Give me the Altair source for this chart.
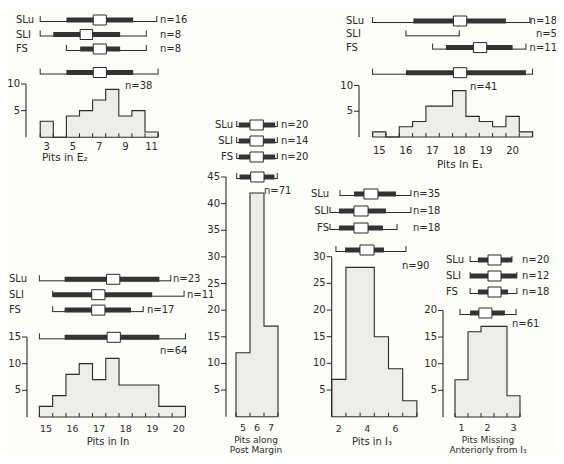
import altair as alt
import pandas as pd
import numpy as np

OFF = 8
FONT = "DejaVu Sans"
INK = "#2a2a2a"
FILL = "#ecece8"
BG = "#fcfcf8"
GROUPS = ["SLu", "SLI", "FS", "All"]

# ---------------- data ----------------
# Pits in E2
E2_centers = [3, 4, 5, 6, 7, 8, 9, 10, 11]
E2_counts = [3, 0, 4, 5, 7, 9, 4, 5, 1]
E2_n = [16, 8, 8, 38]
E2_min = [2.5, 2.5, 4.5, 2.5]
E2_max = [11.4, 10.6, 10.6, 11.5]
E2_sdlo = [4.5, 3.5, 5.55, 4.5]
E2_sdhi = [9.6, 8.6, 8.6, 9.6]
E2_selo = [6.55, 5.55, 6.55, 6.55]
E2_sehi = [7.55, 6.5, 7.55, 7.55]

# Pits in E1
E1_centers = [15, 15.5, 16, 16.5, 17, 17.5, 18, 18.5, 19, 19.5, 20, 20.5]
E1_counts = [1, 0, 2, 3, 6, 6, 9, 4, 3, 2, 4, 1]
E1_n = [18, 5, 11, 41]
E1_min = [14.75, 16.0, 17.0, 14.75]
E1_max = [20.65, 18.0, 20.5, 20.75]
E1_sdlo = [16.28, None, 17.5, 16.0]
E1_sdhi = [19.75, None, 20.0, 20.5]
E1_selo = [17.78, None, 18.53, 17.78]
E1_sehi = [18.28, None, 19.03, 18.28]

# Pits in In
IN_centers = [15, 15.5, 16, 16.5, 17, 17.5, 18, 18.5, 19, 19.5, 20]
IN_counts = [2, 4, 8, 10, 7, 11, 6, 6, 6, 2, 2]
IN_n = [23, 11, 17, 64]
IN_min = [14.75, 15.25, 15.25, 14.75]
IN_max = [19.7, 20.2, 18.66, 20.25]
IN_sdlo = [15.7, 15.25, 15.7, 15.7]
IN_sdhi = [19.27, 19.0, 18.2, 19.27]
IN_selo = [17.28, 16.72, 16.72, 17.3]
IN_sehi = [17.78, 17.22, 17.22, 17.8]

# Pits along Post Margin
PM_centers = [5, 6, 7]
PM_counts = [12, 42, 17]
PM_n = [20, 14, 20, 71]
PM_min = [4.55, 4.55, 4.55, 4.55]
PM_max = [7.45, 7.45, 7.45, 7.45]
PM_sdlo = [4.7, 4.7, 4.7, 4.75]
PM_sdhi = [7.3, 7.3, 7.3, 7.25]
PM_selo = [5.5, 5.5, 5.5, 5.55]
PM_sehi = [6.45, 6.45, 6.45, 6.5]

# Pits in I3
I3_centers = [2, 3, 4, 5, 6, 7]
I3_counts = [7, 28, 28, 15, 9, 3]
I3_n = [35, 18, 18, 90]
I3_min = [2.08, 1.38, 1.38, 1.8]
I3_max = [7.08, 7.08, 6.1, 6.73]
I3_sdlo = [3.07, 2.01, 2.01, 2.44]
I3_sdhi = [6.03, 5.32, 5.11, 5.18]
I3_selo = [3.77, 3.07, 3.07, 3.49]
I3_sehi = [4.76, 4.06, 4.06, 4.48]

# Pits missing anteriorly from I3
MA_centers = [1, 1.5, 2, 2.5, 3]
MA_counts = [7, 16, 17, 17, 4]
MA_n = [20, 12, 18, 61]
MA_min = [1.33, 1.33, 1.33, 0.94]
MA_max = [2.94, 3.13, 3.13, 3.1]
MA_sdlo = [1.63, 1.33, 1.63, 1.33]
MA_sdhi = [2.94, 3.13, 2.79, 2.67]
MA_selo = [2.02, 2.02, 2.02, 1.67]
MA_sehi = [2.52, 2.52, 2.52, 2.17]

# ---------------- layout (page pixels) ----------------
PANELS = [
    dict(centers=E2_centers, counts=E2_counts, width=1.0, n=E2_n, mn=E2_min, mx=E2_max,
         sdlo=E2_sdlo, sdhi=E2_sdhi, selo=E2_selo, sehi=E2_sehi,
         xdom=(2.5, 11.5), xpx=(40.2, 158.1), ymax=10, ypx=(137.3, 84.0),
         yticks=[5, 10], xticks=list(np.arange(2.5, 11.51, 1.0)), xlabels=[3, 5, 7, 9, 11],
         axis_x=26, xlab_y=147, xlab_size=10, row0=20, step=14.5, all_y=72.5,
         gl_x=16, gl_align="left", n_x=160, n_align="left", all_n=(125, 86, "left"),
         titles=[("Pits in E\u2082", 42, 158, "left", 10.5)]),
    dict(centers=E1_centers, counts=E1_counts, width=0.5, n=E1_n, mn=E1_min, mx=E1_max,
         sdlo=E1_sdlo, sdhi=E1_sdhi, selo=E1_selo, sehi=E1_sehi,
         xdom=(14.75, 20.75), xpx=(372.6, 532.6), ymax=10, ypx=(137.0, 85.5),
         yticks=[5, 10], xticks=list(np.arange(14.75, 20.76, 0.5)), xlabels=[15, 16, 17, 18, 19, 20],
         axis_x=359, xlab_y=151, xlab_size=10, row0=21, step=13.3, all_y=72.7,
         gl_x=346, gl_align="left", n_x=557, n_align="right", all_n=(470, 87, "left"),
         titles=[("Pits In E\u2081", 437, 165, "left", 10.5)]),
    dict(centers=IN_centers, counts=IN_counts, width=0.5, n=IN_n, mn=IN_min, mx=IN_max,
         sdlo=IN_sdlo, sdhi=IN_sdhi, selo=IN_selo, sehi=IN_sehi,
         xdom=(14.75, 20.25), xpx=(39.4, 185.4), ymax=15, ypx=(417.0, 337.0),
         yticks=[5, 10, 15], xticks=list(np.arange(14.75, 20.26, 0.5)), xlabels=[15, 16, 17, 18, 19, 20],
         axis_x=27, xlab_y=429, xlab_size=9.5, row0=279.3, step=15.4, all_y=337.3,
         gl_x=9, gl_align="left", n_x=None, n_align="left", all_n=(160, 351, "left"),
         n_xs=[173, 187, 147],
         titles=[("Pits in In", 108, 442, "center", 10)]),
    dict(centers=PM_centers, counts=PM_counts, width=1.0, n=PM_n, mn=PM_min, mx=PM_max,
         sdlo=PM_sdlo, sdhi=PM_sdhi, selo=PM_selo, sehi=PM_sehi,
         xdom=(4.5, 7.5), xpx=(236.0, 278.0), ymax=45, ypx=(416.7, 177.0),
         yticks=[5, 10, 15, 20, 25, 30, 35, 40, 45], xticks=[4.5, 5.5, 6.5, 7.5], xlabels=[5, 6, 7],
         axis_x=226, xlab_y=428, xlab_size=9.5, row0=125, step=16, all_y=177,
         gl_x=233, gl_align="right", n_x=281, n_align="left", all_n=(264, 191, "left"),
         titles=[("Pits along", 256, 439.6, "center", 9), ("Post Margin", 256, 450.4, "center", 9)]),
    dict(centers=I3_centers, counts=I3_counts, width=1.0, n=I3_n, mn=I3_min, mx=I3_max,
         sdlo=I3_sdlo, sdhi=I3_sdhi, selo=I3_selo, sehi=I3_sehi,
         xdom=(1.5, 7.5), xpx=(331.7, 416.9), ymax=30, ypx=(416.7, 256.7),
         yticks=[5, 10, 15, 20, 25, 30], xticks=list(np.arange(1.5, 7.51, 1.0)), xlabels=[2, 4, 6],
         axis_x=331.7, xlab_y=429, xlab_size=9.5, row0=194, step=17, all_y=250,
         gl_x=329, gl_align="right", n_x=413, n_align="left", all_n=(402, 266, "left"),
         titles=[("Pits in I\u2083", 372, 442, "center", 10)]),
    dict(centers=MA_centers, counts=MA_counts, width=0.5, n=MA_n, mn=MA_min, mx=MA_max,
         sdlo=MA_sdlo, sdhi=MA_sdhi, selo=MA_selo, sehi=MA_sehi,
         xdom=(0.75, 3.25), xpx=(455.0, 520.0), ymax=20, ypx=(417.0, 310.4),
         yticks=[5, 10, 15, 20], xticks=list(np.arange(0.75, 3.26, 0.5)), xlabels=[1, 2, 3],
         axis_x=443, xlab_y=428, xlab_size=9.5, row0=260, step=16, all_y=313,
         gl_x=446, gl_align="left", n_x=522, n_align="left", all_n=(512, 324, "left"),
         titles=[("Pits Missing", 488, 439.6, "center", 9),
                 ("Anteriorly from I\u2083", 488, 450.4, "center", 9)]),
]


def lin(dom, rng):
    return alt.Scale(domain=list(dom), range=[r - OFF for r in rng], nice=False, zero=False)


def txt(size=10, align="center", baseline="middle"):
    return dict(font=FONT, fontSize=size, color=INK, align=align, baseline=baseline)


def build(P):
    xs = lin(P["xdom"], P["xpx"])
    ys = lin((0, P["ymax"]), P["ypx"])
    rs = lin((0, 1), (P["row0"], P["row0"] + P["step"]))
    X = lambda f: alt.X(f, scale=xs, axis=None)
    Y = lambda f: alt.Y(f, scale=ys, axis=None)
    R = lambda f: alt.Y(f, scale=rs, axis=None)
    L = []
    w = P["width"]
    left = [c - w / 2 for c in P["centers"]]
    right = P["centers"][-1] + w / 2
    cnt = list(P["counts"])

    area_df = pd.DataFrame({"x": left + [right], "y": cnt + [cnt[-1]]})
    L.append(alt.Chart(area_df).mark_area(interpolate="step-after", color=FILL)
             .encode(x=X("x:Q"), y=Y("y:Q")))
    line_df = pd.DataFrame({"x": [left[0]] + left + [right], "y": [0] + cnt + [0]})
    line_df["i"] = range(len(line_df))
    L.append(alt.Chart(line_df).mark_line(interpolate="step-after", color=INK, strokeWidth=1.1)
             .encode(x=X("x:Q"), y=Y("y:Q"), order=alt.Order("i:Q")))

    base_df = pd.DataFrame({"lo": [left[0]], "hi": [right], "z": [0]})
    L.append(alt.Chart(base_df).mark_rule(color=INK, strokeWidth=1.1)
             .encode(x=X("lo:Q"), x2="hi:Q", y=Y("z:Q")))
    tick_df = pd.DataFrame({"t": P["xticks"], "z": 0})
    L.append(alt.Chart(tick_df).mark_rule(color=INK, strokeWidth=1, y2Offset=-4)
             .encode(x=X("t:Q"), y=Y("z:Q"), y2="z:Q"))

    ax_df = pd.DataFrame({"a": [0], "b": [P["ymax"]]})
    L.append(alt.Chart(ax_df).mark_rule(color=INK, strokeWidth=1.1)
             .encode(x=alt.value(P["axis_x"] - OFF), y=Y("a:Q"), y2="b:Q"))
    yt_df = pd.DataFrame({"t": P["yticks"]})
    L.append(alt.Chart(yt_df).mark_rule(color=INK, strokeWidth=1)
             .encode(x=alt.value(P["axis_x"] - 5 - OFF), x2=alt.value(P["axis_x"] - OFF), y=Y("t:Q")))
    L.append(alt.Chart(yt_df).mark_text(**txt(10, "right"))
             .encode(x=alt.value(P["axis_x"] - 6 - OFF), y=Y("t:Q"), text="t:Q"))
    xl_df = pd.DataFrame({"v": P["xlabels"]})
    L.append(alt.Chart(xl_df).mark_text(**txt(P["xlab_size"]))
             .encode(x=X("v:Q"), y=alt.value(P["xlab_y"] - OFF), text="v:Q"))
    for s, tx, ty, al, fs in P["titles"]:
        L.append(alt.Chart(pd.DataFrame({"s": [s]})).mark_text(**txt(fs, al))
                 .encode(x=alt.value(tx - OFF), y=alt.value(ty - OFF), text="s:N"))

    all_lvl = 2 + (P["all_y"] - (P["row0"] + 2 * P["step"])) / P["step"]
    d = pd.DataFrame({"g": GROUPS, "lvl": [0, 1, 2, all_lvl], "n": P["n"],
                      "mn": P["mn"], "mx": P["mx"],
                      "tlo": P["sdlo"], "thi": P["sdhi"], "blo": P["selo"], "bhi": P["sehi"]})
    d["nl"] = ["n=" + str(v) for v in d["n"]]
    dd = d.dropna(subset=["tlo"])
    L.append(alt.Chart(d).mark_rule(color=INK, strokeWidth=1, yOffset=1.5, y2Offset=1.5)
             .encode(x=X("mn:Q"), x2="mx:Q", y=R("lvl:Q"), y2="lvl:Q"))
    for f in ["mn", "mx"]:
        L.append(alt.Chart(d).mark_rule(color=INK, strokeWidth=1, yOffset=2, y2Offset=-4)
                 .encode(x=X(f + ":Q"), y=R("lvl:Q"), y2="lvl:Q"))
    L.append(alt.Chart(dd).mark_rect(color="#333333", yOffset=-2.5, y2Offset=2.5)
             .encode(x=X("tlo:Q"), x2="thi:Q", y=R("lvl:Q"), y2="lvl:Q"))
    L.append(alt.Chart(dd).mark_rect(fill="white", stroke=INK, strokeWidth=1, yOffset=-5, y2Offset=5)
             .encode(x=X("blo:Q"), x2="bhi:Q", y=R("lvl:Q"), y2="lvl:Q"))
    gl = d[d["g"] != "All"]
    L.append(alt.Chart(gl).mark_text(**txt(10, P["gl_align"]))
             .encode(x=alt.value(P["gl_x"] - OFF), y=R("lvl:Q"), text="g:N"))
    if P.get("n_xs"):
        for k in range(3):
            L.append(alt.Chart(gl.iloc[[k]]).mark_text(**txt(10, "left"))
                     .encode(x=alt.value(P["n_xs"][k] - OFF), y=R("lvl:Q"), text="nl:N"))
    else:
        L.append(alt.Chart(gl).mark_text(**txt(10, P["n_align"]))
                 .encode(x=alt.value(P["n_x"] - OFF), y=R("lvl:Q"), text="nl:N"))
    ax, ay, aal = P["all_n"]
    L.append(alt.Chart(d[d["g"] == "All"]).mark_text(**txt(10, aal))
             .encode(x=alt.value(ax - OFF), y=alt.value(ay - OFF), text="nl:N"))
    return L


layers = []
for P in PANELS:
    layers += build(P)

chart = (alt.layer(*layers)
         .resolve_scale(x="independent", y="independent")
         .properties(width=548, height=448, autosize=alt.AutoSizeParams(type="none"), padding=0,
                     background=BG)
         .configure_view(stroke=None))

chart.save("out.html", embed_options={"renderer": "svg", "actions": False})
